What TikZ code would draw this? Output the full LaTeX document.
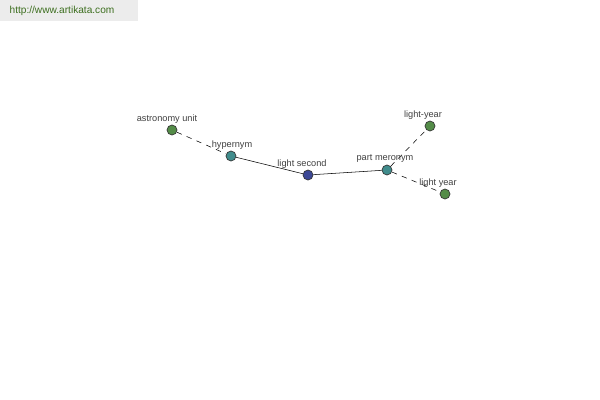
\documentclass[tikz,border=0pt]{standalone}
\usepackage{fontspec}
\setmainfont{Liberation Sans}
\usetikzlibrary{positioning}
\definecolor{leafgreen}{RGB}{84, 140, 72}
\definecolor{tealish}{RGB}{64, 140, 140}
\definecolor{rootblue}{RGB}{60, 72, 150}
\definecolor{linkgreen}{RGB}{60, 110, 30}
\definecolor{bargrey}{RGB}{236, 236, 236}
\begin{document}
\begin{tikzpicture}[x = 0.75pt, y = -0.75pt,
  dot/.style = {circle, draw = black!80, line width = 0.5pt, minimum size = 7.5pt, inner sep = 0pt},
  word/.style = {font = \fontsize{6.9}{8}\selectfont, text = black!75, inner sep = 0pt},
  linkline/.style = {dash pattern = on 4pt off 4pt, thin}]
\useasboundingbox (0,0) rectangle (600,400);
\fill[white] (0,0) rectangle (600,400);
% site banner
\fill[bargrey] (0,0) rectangle (138,21);
\node[font = \fontsize{7.6}{9}\selectfont, text = linkgreen, inner sep = 0pt] (site) at (62,11) {http://www.artikata.com};
% word nodes
\node[dot, fill = leafgreen] (astro) at (172,130) {};
\node[dot, fill = tealish] (hyper) at (231,156) {};
\node[dot, fill = rootblue] (second) at (308,175) {};
\node[dot, fill = tealish] (mero) at (387,170) {};
\node[dot, fill = leafgreen] (lyhyph) at (430,126) {};
\node[dot, fill = leafgreen] (lyspace) at (445,194) {};
% connectors
\draw[linkline] (astro) -- (hyper);
\draw[thin] (hyper) -- (second);
\draw[thin] (second) -- (mero);
\draw[linkline] (mero) -- (lyhyph);
\draw[linkline] (mero) -- (lyspace);
% labels
\node[word] (astrolbl) at (167,119) {astronomy unit};
\node[word] (hyperlbl) at (232,145) {hypernym};
\node[word] (secondlbl) at (302,164) {light second};
\node[word] (merolbl) at (385,158) {part meronym};
\node[word] (lyhyphlbl) at (423,115) {light-year};
\node[word] (lyspacelbl) at (438,183) {light year};
\end{tikzpicture}
\end{document}
